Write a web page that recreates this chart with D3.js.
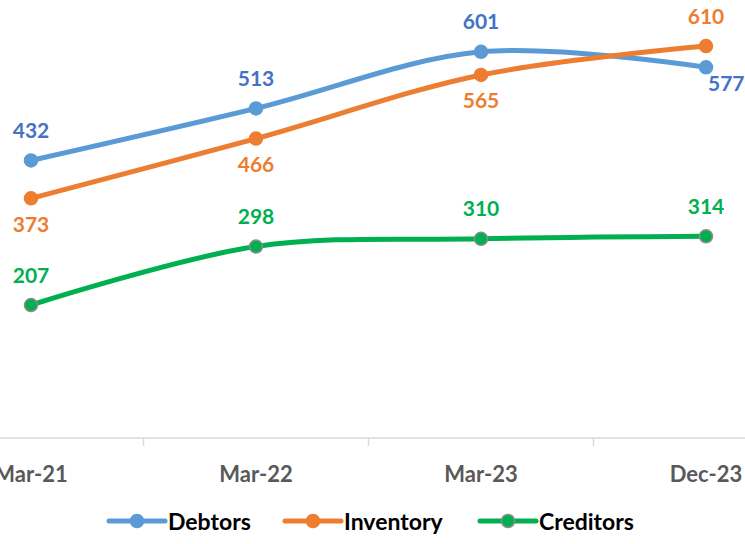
<!DOCTYPE html>
<html>
<head>
<meta charset="utf-8">
<script src="https://cdn.jsdelivr.net/npm/d3@7"></script>
<style>
  body { margin: 0; background: #fff; }
  svg { display: block; font-family: Lato, "Open Sans", sans-serif; font-weight: bold; }
</style>
</head>
<body>
<div class="viz"></div>
<script>
// data
const categories = ['Mar-21', 'Mar-22', 'Mar-23', 'Dec-23'];
const debtors = [432, 513, 601, 577];
const inventory = [373, 466, 565, 610];
const creditors = [207, 298, 310, 314];
const seriesNames = ['Debtors', 'Inventory', 'Creditors'];

// label side per point: 'above', 'below', 'right'
const debtorsLabelPos = ['above', 'above', 'above', 'right'];
const inventoryLabelPos = ['below', 'below', 'below', 'above'];
const creditorsLabelPos = ['above', 'above', 'above', 'above'];

const series = [
    { name: seriesNames[0], values: debtors, line: '#5B9BD5', label: '#4472C4', stroke: '#5B9BD5', pos: debtorsLabelPos },
    { name: seriesNames[1], values: inventory, line: '#ED7D31', label: '#ED7D31', stroke: '#ED7D31', pos: inventoryLabelPos },
    { name: seriesNames[2], values: creditors, line: '#00B050', label: '#00B050', stroke: '#8C8C8C', pos: creditorsLabelPos },
];

const W = 745, H = 544;

var svg = d3.select('div.viz')
    .append('svg')
    .attr('width', W)
    .attr('height', H);

// plot area runs past the left and right edges of the window
var xScale = d3.scaleBand()
    .domain(categories)
    .range([-81.5, 818.5]);

var yScale = d3.scaleLinear()
    .domain([0, 610])
    .range([438, 438 - 610 * 0.6425]);

const cx = (c) => xScale(c) + xScale.bandwidth() / 2;

// axis line + ticks between categories
var axis = svg.append('g').attr('class', 'x-axis');
axis.append('line')
    .attr('x1', xScale.range()[0]).attr('x2', xScale.range()[1])
    .attr('y1', yScale(0)).attr('y2', yScale(0))
    .attr('stroke', '#D9D9D9').attr('stroke-width', 1.5);
axis.selectAll('line.tick')
    .data(categories.slice(1))
    .enter().append('line')
    .attr('class', 'tick')
    .attr('x1', (d) => xScale(d)).attr('x2', (d) => xScale(d))
    .attr('y1', yScale(0)).attr('y2', yScale(0) + 8)
    .attr('stroke', '#D9D9D9').attr('stroke-width', 1.5);
axis.selectAll('text')
    .data(categories)
    .enter().append('text')
    .attr('x', (d) => cx(d))
    .attr('y', 473)
    .attr('text-anchor', 'middle')
    .attr('dominant-baseline', 'central')
    .attr('fill', '#595959')
    .style('font-size', '22px')
    .text((d) => d);

var line = d3.line()
    .x((d, i) => cx(categories[i]))
    .y((d) => yScale(d))
    .curve(d3.curveCatmullRom.alpha(0));

series.forEach(function(s) {
    var g = svg.append('g').attr('class', 'series');
    g.append('path')
        .attr('d', line(s.values))
        .attr('fill', 'none')
        .attr('stroke', s.line)
        .attr('stroke-width', 5)
        .attr('stroke-linecap', 'round');
    g.selectAll('circle')
        .data(s.values)
        .enter().append('circle')
        .attr('cx', (d, i) => cx(categories[i]))
        .attr('cy', (d) => yScale(d))
        .attr('r', 6.5)
        .attr('fill', s.line)
        .attr('stroke', s.stroke)
        .attr('stroke-width', 1.5);
});

// data labels
series.forEach(function(s) {
    svg.append('g').selectAll('text')
        .data(s.values)
        .enter().append('text')
        .attr('x', (d, i) => cx(categories[i]) + (s.pos[i] === 'right' ? 2 : 0))
        .attr('y', function(d, i) {
            var y = yScale(d);
            if (s.pos[i] === 'above') return y - 31;
            if (s.pos[i] === 'right') return y + 15;
            return y + 25;
        })
        .attr('text-anchor', (d, i) => s.pos[i] === 'right' ? 'start' : 'middle')
        .attr('dominant-baseline', 'central')
        .attr('fill', s.label)
        .style('font-size', '21px')
        .text((d) => d);
});

// legend
var legendX = [109, 285, 480];
var legend = svg.append('g').attr('class', 'legend');
series.forEach(function(s, i) {
    var g = legend.append('g').attr('transform', 'translate(' + legendX[i] + ',521)');
    g.append('line')
        .attr('x1', 0).attr('x2', 56)
        .attr('stroke', s.line).attr('stroke-width', 5)
        .attr('stroke-linecap', 'round');
    g.append('circle')
        .attr('cx', 28).attr('r', 6.5)
        .attr('fill', s.line)
        .attr('stroke', s.stroke).attr('stroke-width', 1.5);
    g.append('text')
        .attr('x', 59)
        .attr('dominant-baseline', 'central')
        .attr('fill', '#000')
        .style('font-size', '23px')
        .text(s.name);
});
</script>
</body>
</html>
